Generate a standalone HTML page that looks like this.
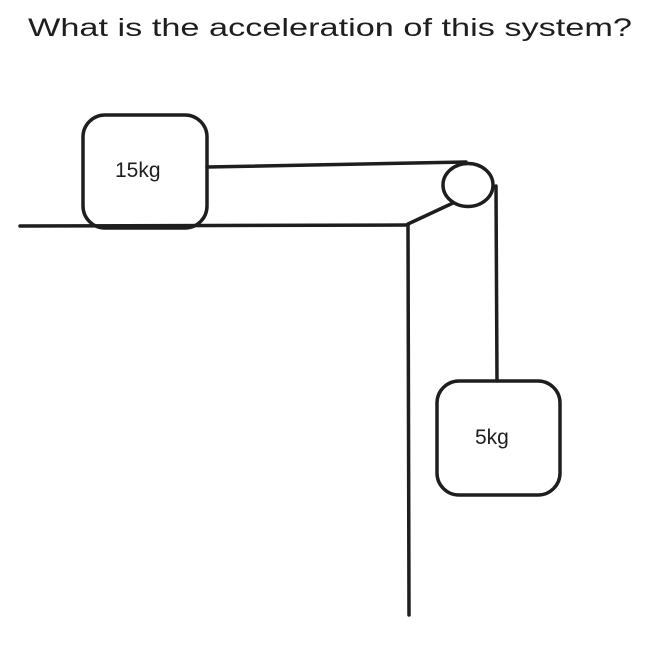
<!DOCTYPE html>
<html><head><style>html,body{margin:0;padding:0;background:#fff;}svg{display:block}</style></head>
<body>
<svg width="663" height="650" viewBox="0 0 663 650" xmlns="http://www.w3.org/2000/svg">
<rect width="663" height="650" fill="#fff"/>
<text x="28" y="36" font-family="Liberation Sans, sans-serif" font-size="25" fill="#1e1e1e" textLength="604" lengthAdjust="spacingAndGlyphs">What is the acceleration of this system?</text>
<g fill="none" stroke="#1e1e1e" stroke-width="3.5" stroke-linecap="round">
<rect x="83" y="115" width="124" height="113" rx="22"/>
<line x1="20" y1="226" x2="408" y2="225"/>
<line x1="408" y1="225" x2="409" y2="615"/>
<line x1="408" y1="224" x2="453" y2="203"/>
<ellipse cx="468" cy="185" rx="25" ry="21.5"/>
<line x1="207" y1="167" x2="466" y2="162"/>
<line x1="496" y1="186" x2="497" y2="381"/>
<rect x="437" y="381" width="123" height="114" rx="22"/>
</g>
<text x="115" y="177" font-family="Liberation Sans, sans-serif" font-size="21" fill="#1e1e1e">15kg</text>
<text x="475" y="444" font-family="Liberation Sans, sans-serif" font-size="21" fill="#1e1e1e">5kg</text>
</svg>
</body></html>
